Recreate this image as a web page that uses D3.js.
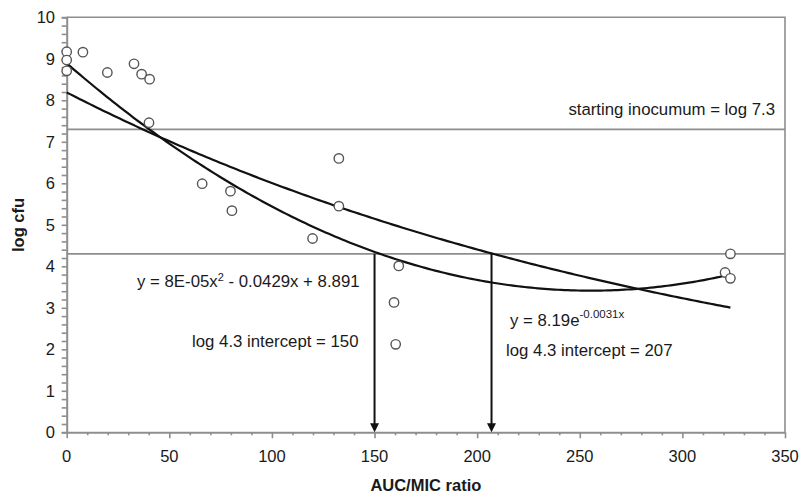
<!DOCTYPE html>
<html>
<head>
<meta charset="utf-8">
<script src="https://cdn.jsdelivr.net/npm/d3@7"></script>
<style>
  html, body { margin: 0; padding: 0; background: #fff; }
  svg text { font-family: "Liberation Sans", Arial, sans-serif; fill: #1a1a1a; }
</style>
</head>
<body>
<svg id="chart" width="799" height="496"></svg>
<script>
// Observed bacterial counts against AUC/MIC exposure
const aucMic = [0, 0, 0, 7.9, 19.8, 32.8, 36.5, 40.4, 40.1, 66.0, 79.8, 80.5, 119.8, 132.6, 132.6, 161.8, 159.5, 160.3, 323.4, 320.8, 323.4];
const logCfu = [9.17, 8.97, 8.71, 9.16, 8.67, 8.88, 8.63, 8.51, 7.46, 5.99, 5.81, 5.34, 4.67, 6.60, 5.45, 4.01, 3.13, 2.12, 4.30, 3.85, 3.71];

// Trendline coefficients (quadratic: a x^2 + b x + c ; exponential: k e^(r x))
const quadCoef = [8.4e-5, -0.0429, 8.891];
const expCoef = [8.19, -0.0031];

// Reference levels and intercepts
const inoculum = 7.3;
const target = 4.3;
const intercepts = [150, 207];

const xTicks = [0, 50, 100, 150, 200, 250, 300, 350];
const yTicks = [0, 1, 2, 3, 4, 5, 6, 7, 8, 9, 10];

const svg = d3.select("#chart");
const x = d3.scaleLinear().domain([0, 350]).range([66.7, 785]);
const y = d3.scaleLinear().domain([0, 10]).range([432.3, 17.3]);

const gray = "#8e8e8e";

// plot frame (top and right edges)
svg.append("path")
  .attr("d", `M${x(0)},${y(10)}H${x(350)}V${y(0)}`)
  .attr("fill", "none").attr("stroke", gray).attr("stroke-width", 1.6);

// reference lines
[inoculum, target].forEach(v => {
  svg.append("line")
    .attr("x1", x(0)).attr("x2", x(350))
    .attr("y1", y(v)).attr("y2", y(v))
    .attr("stroke", gray).attr("stroke-width", 1.6);
});

// y axis with minor ticks every 0.2
const yMinor = d3.range(0, 10.001, 0.2);
const yAxisG = svg.append("g").attr("transform", `translate(${x(0)},0)`);
yAxisG.call(d3.axisLeft(y).tickValues(yMinor).tickSize(5).tickFormat(""));
yAxisG.selectAll("path, line").attr("stroke", gray).attr("stroke-width", 1.6);
yAxisG.select(".domain").attr("stroke-width", 2);
yAxisG.selectAll("text").remove();
svg.append("g").selectAll("text").data(yTicks).join("text")
  .attr("x", 55).attr("y", d => y(d)).attr("dy", "0.36em")
  .attr("text-anchor", "end").style("font-size", "16.5px")
  .text(d => d);

// x axis: minor ticks every 10, major every 50
const xAxisG = svg.append("g").attr("transform", `translate(0,${y(0)})`);
xAxisG.call(d3.axisBottom(x).tickValues(d3.range(0, 351, 10)).tickSize(3).tickSizeOuter(0).tickFormat(""));
xAxisG.selectAll("path, line").attr("stroke", gray).attr("stroke-width", 1.6);
xAxisG.select(".domain").attr("stroke-width", 2);
xAxisG.selectAll(".tick line").filter(d => d % 50 === 0).attr("y2", 6);
xAxisG.selectAll("text").remove();
svg.append("g").selectAll("text").data(xTicks).join("text")
  .attr("x", d => x(d)).attr("y", 462)
  .attr("text-anchor", "middle").style("font-size", "16.5px")
  .text(d => d);

// axis titles
svg.append("text")
  .attr("x", (x(0) + x(350)) / 2).attr("y", 491)
  .attr("text-anchor", "middle").style("font-size", "16.5px").style("font-weight", "bold")
  .text("AUC/MIC ratio");
svg.append("text")
  .attr("transform", `translate(24,${225}) rotate(-90)`)
  .attr("text-anchor", "middle").style("font-size", "16.5px").style("font-weight", "bold")
  .text("log cfu");

// trendlines over the observed range
const xMax = d3.max(aucMic);
const xs = d3.range(0, xMax + 0.001, xMax / 200);
const quad = v => quadCoef[0] * v * v + quadCoef[1] * v + quadCoef[2];
const expo = v => expCoef[0] * Math.exp(expCoef[1] * v);
const line = d3.line().x(d => x(d[0])).y(d => y(d[1])).curve(d3.curveLinear);
[quad, expo].forEach(f => {
  svg.append("path")
    .attr("d", line(xs.map(v => [v, f(v)])))
    .attr("fill", "none").attr("stroke", "#111").attr("stroke-width", 2.2);
});

// intercept arrows
intercepts.forEach(v => {
  svg.append("line")
    .attr("x1", x(v)).attr("x2", x(v))
    .attr("y1", y(target)).attr("y2", y(0) - 6)
    .attr("stroke", "#111").attr("stroke-width", 2);
  svg.append("path")
    .attr("d", `M${x(v) - 4.5},${y(0) - 9}L${x(v) + 4.5},${y(0) - 9}L${x(v)},${y(0)}Z`)
    .attr("fill", "#111");
});

// data points
svg.append("g").selectAll("circle").data(aucMic.map((v, i) => [v, logCfu[i]])).join("circle")
  .attr("cx", d => x(d[0])).attr("cy", d => y(d[1])).attr("r", 4.7)
  .attr("fill", "#fff").attr("stroke", "#555").attr("stroke-width", 1.4);

// annotations
const annot = svg.append("g").style("font-size", "16.8px");
annot.append("text").attr("x", 775).attr("y", 115).attr("text-anchor", "end")
  .text("starting inocumum = log " + inoculum);
const q = annot.append("text").attr("x", 137).attr("y", 287);
q.append("tspan").text("y = 8E-05x");
q.append("tspan").attr("dy", -6).style("font-size", "11px").text("2");
q.append("tspan").attr("dy", 6).text(" - 0.0429x + 8.891");
annot.append("text").attr("x", 192).attr("y", 347)
  .text("log " + target + " intercept = " + intercepts[0]);
const e = annot.append("text").attr("x", 510).attr("y", 326);
e.append("tspan").text("y = 8.19e");
e.append("tspan").attr("dy", -8).style("font-size", "11.5px").text("-0.0031x");
annot.append("text").attr("x", 506).attr("y", 356)
  .text("log " + target + " intercept = " + intercepts[1]);
</script>
</body>
</html>
